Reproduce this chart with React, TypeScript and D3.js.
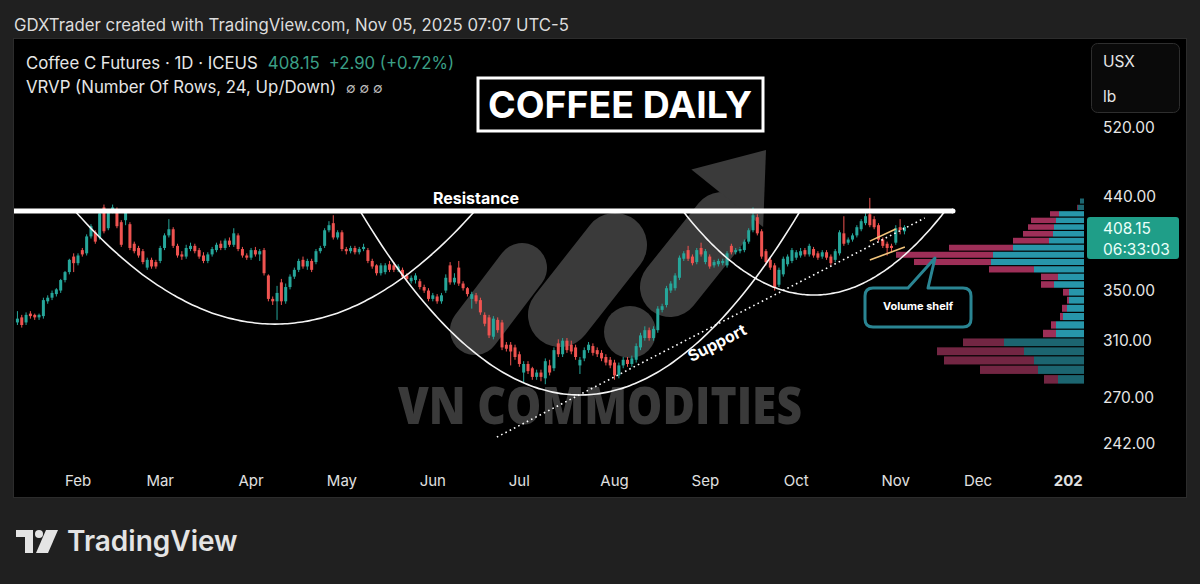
import React from "react";
import * as d3 from "d3";

// ---------- DATA ----------
// daily candles [open, high, low, close], Jan 13 2025 → Nov 5 2025
const dailyOHLC: [number, number, number, number][] = [
  [324,333,322,327],[328,330,320,322],[324,332,322,330],[331,333,327,329],[330,331,326,328],
  [328,331,326,330],[329,344,327,342],[341,346,339,344],[344,350,342,348],[347,352,345,351],
  [350,360,348,359],[359,367,357,366],[366,378,364,377],[380,383,366,374],
  // Feb
  [374,383,372,381],[386,388,380,382],[383,401,381,399],[399,411,397,409],[403,405,392,394],
  [398,425,396,422],[428,431,402,404],[407,426,405,424],[424,431,422,428],[423,428,407,409],
  [413,415,389,391],[415,426,410,423],[411,413,386,388],[392,394,383,385],[388,390,379,381],
  [385,387,373,375],[370,379,368,377],[377,379,369,371],[375,377,369,371],
  // Mar
  [376,390,374,388],[388,402,386,400],[400,416,398,406],[406,408,388,390],[390,392,379,381],
  [382,385,377,380],[380,391,378,388],[387,393,385,390],[390,392,383,385],[386,388,378,380],
  [381,384,374,376],[376,384,374,382],[382,389,380,387],[386,393,384,391],[392,395,386,388],
  [388,397,386,395],[395,398,389,391],[391,407,389,402],[400,402,385,387],[387,389,379,381],
  [381,383,377,379],
  // Apr
  [379,388,377,386],[386,389,380,382],[382,387,376,385],[386,388,363,365],[363,364,341,343],
  [343,345,338,341],[341,354,326,348],[357,360,338,341],[341,356,339,353],[353,364,351,362],
  [362,370,360,368],[368,378,366,376],[377,380,369,371],[371,378,368,376],[376,378,366,368],
  [375,387,373,385],[385,390,383,388],[390,407,388,405],[405,414,403,410],[412,420,396,398],
  [398,405,396,403],
  // May
  [403,405,385,387],[387,389,382,385],[385,390,383,388],[388,390,382,384],[384,389,382,387],
  [387,392,385,389],[386,388,374,376],[376,378,369,371],[372,373,363,365],[365,374,363,372],
  [366,374,364,372],[373,376,366,368],[372,375,366,368],[368,373,366,371],[368,370,360,362],
  [363,365,358,360],[358,363,356,361],[359,365,356,363],[358,360,351,353],[353,355,348,350],
  [350,352,341,343],
  // Jun
  [343,348,341,346],[345,347,339,341],[341,348,339,346],[350,364,348,361],[372,375,355,357],
  [357,365,355,361],[370,376,354,356],[356,358,350,352],[352,353,345,347],[343,349,335,347],
  [346,348,339,341],[342,344,330,332],[330,332,321,323],[328,330,312,314],[313,329,311,327],
  [326,328,316,318],[324,326,303,305],[307,309,302,304],[307,309,292,302],[305,307,296,298],
  // Jul
  [300,302,291,293],[287,295,280,293],[293,295,286,288],[290,291,282,284],[284,289,282,287],
  [287,289,281,284],[283,297,279,295],[292,296,285,287],[290,305,288,303],[308,311,298,300],
  [300,312,298,310],[310,312,301,303],[307,310,300,302],[305,307,296,298],[292,298,286,296],
  [297,305,295,303],[303,309,301,307],[306,308,299,301],[303,305,298,300],[301,303,295,297],
  [298,300,292,294],[296,298,290,292],
  // Aug
  [294,296,282,285],[285,294,283,292],[292,298,290,296],[296,298,291,293],[293,299,291,297],
  [296,308,294,306],[305,316,303,314],[312,321,310,318],[318,320,310,312],[312,321,310,319],
  [318,337,316,335],[334,339,332,337],[338,354,336,352],[350,358,348,356],[352,365,350,363],
  [361,381,359,379],[378,385,376,383],[386,390,376,378],[380,382,372,374],[375,388,373,386],
  [388,393,380,382],
  // Sep
  [375,387,373,385],[380,382,369,371],[372,377,370,375],[373,378,371,376],[374,378,372,376],
  [372,385,370,383],[390,392,382,384],[384,388,382,386],[385,389,383,387],[386,396,384,394],
  [394,407,392,405],[405,428,403,420],[418,421,400,402],[404,406,378,380],[385,387,372,375],
  [377,379,368,370],[372,374,350,353],[355,370,353,368],[364,380,362,378],[373,382,371,380],
  [376,388,374,386],
  // Oct
  [379,386,377,384],[381,388,379,385],[386,388,380,382],[382,392,380,390],[387,389,379,381],
  [383,385,377,379],[380,386,378,384],[384,386,377,379],[380,382,372,374],[377,387,375,385],
  [383,405,381,403],[402,419,390,392],[393,398,391,396],[396,402,394,400],[400,410,398,408],
  [406,416,404,414],[412,422,410,419],[421,438,408,410],[416,419,406,408],[410,412,394,396],
  [396,398,388,390],[392,394,381,388],[390,392,384,388],
  // Nov
  [393,410,391,407],[408,416,401,405.25],[404,410,401,408.15],
];

const monthLabels = ["Feb","Mar","Apr","May","Jun","Jul","Aug","Sep","Oct","Nov","Dec","2026"];
const monthBarIndex = [14,33,54,75,96,116,138,159,180,203,222,244];
const priceTicks = [520, 440, 350, 310, 270, 242];

const lastPrice = 408.15;
const priceChange = 2.9;
const priceChangePct = 0.72;
const barCountdown = "06:33:03";

const resistanceLevel = 424.3;
// cup arcs: [startBar, endBar, bottomPrice]
const cupArcs: [number, number, number][] = [
  [13.3, 105.7, 322.7],
  [79.2, 180.9, 271.8],
  [153.8, 214.4, 346.2],
];
const supportLine: [number, number][] = [[110.8, 245.5], [209.7, 417.2]];
const flagUpper: [number, number][] = [[197, 394.5], [203, 406.2]];
const flagLower: [number, number][] = [[197, 376.9], [205.1, 388.9]];

// volume profile rows, bottom → top (24 rows)
const vpDownVolume = [14,58,90,87,41,13,5,3,5,2,6,13,17,45,77,97,64,36,30,26,25,9,1,0];
const vpUpVolume   = [26,46,50,60,80,28,28,21,17,15,15,30,26,50,93,91,71,35,31,30,28,25,6,4];
const vpValueAreaRows = [5, 21];

// ---------- CHART ----------
const FONT = "Inter, 'Noto Sans', sans-serif";
const UP = "#26a69a";
const DOWN = "#ef5350";

export default function App() {
  const W = 1200, H = 584;
  const x = d3.scaleLinear().domain([14, 222]).range([78, 978]);
  const y = d3.scaleLog().domain([242, 520]).range([443, 127]);
  const plotLeft = 14, plotRight = 1085, plotTop = 38, plotBottom = 462;

  const candleW = 3;
  const yR = y(resistanceLevel);

  const arcPaths = cupArcs.map(([s, e, b]) => {
    const x0 = x(s), x1 = x(e), xc = (x0 + x1) / 2, hw = (x1 - x0) / 2;
    const yb = y(b);
    const pts: [number, number][] = d3.range(0, 81).map((k) => {
      const xi = x0 + ((x1 - x0) * k) / 80;
      const t = (xi - xc) / hw;
      return [xi, yR + (yb - yR) * (1 - t * t)];
    });
    return d3.line().curve(d3.curveBasis)(pts) as string;
  });

  // volume profile
  const lo = d3.min(dailyOHLC, (d) => d[2]) as number;
  const hi = d3.max(dailyOHLC, (d) => d[1]) as number;
  const nRows = vpUpVolume.length;
  const step = (hi - lo) / nRows;
  const maxTot = d3.max(vpUpVolume.map((u, i) => u + vpDownVolume[i])) as number;
  const vx = d3.scaleLinear().domain([0, maxTot]).range([0, 188]);
  const vpRight = 1084;

  const pt = (p: [number, number]) => [x(p[0]), y(p[1])];
  const s0 = pt(supportLine[0]), s1 = pt(supportLine[1]);
  const fu0 = pt(flagUpper[0]), fu1 = pt(flagUpper[1]);
  const fl0 = pt(flagLower[0]), fl1 = pt(flagLower[1]);

  const grey = "#3a3a3a";
  // arrowhead
  const tip = [766, 150];
  const dir = [0.625, -0.78];
  const bc = [tip[0] - 62 * dir[0], tip[1] - 62 * dir[1]];
  const perp = [0.78, 0.625];
  const head = `M${tip[0]},${tip[1]} L${bc[0] - 46 * perp[0]},${bc[1] - 46 * perp[1]} L${bc[0] + 46 * perp[0]},${bc[1] + 46 * perp[1]} Z`;

  return (
    <svg width={W} height={H} style={{ display: "block", position: "absolute", left: 0, top: 0 }}>
      <defs>
        <clipPath id="plotClip">
          <rect x={plotLeft} y={plotTop} width={plotRight - plotLeft} height={plotBottom - plotTop} />
        </clipPath>
        <clipPath id="timeClip">
          <rect x={plotLeft} y={460} width={1083 - plotLeft} height={40} />
        </clipPath>
      </defs>
      <rect x={0} y={0} width={W} height={H} fill="#202020" />
      <text x={14} y={31} fill="#dcdcdc" fontFamily={FONT} fontSize={16.8}>
        GDXTrader created with TradingView.com, Nov 05, 2025 07:07 UTC-5
      </text>
      <rect x={13.5} y={38.5} width={1173} height={459} fill="#000" stroke="#2c2c2c" />

      {/* watermark */}
      <g fill={grey} stroke={grey} strokeLinecap="round">
        <line x1={475} y1={330} x2={522} y2={268} strokeWidth={50} />
        <line x1={560} y1={315} x2={615} y2={245} strokeWidth={64} />
        <circle cx={630} cy={332} r={26} stroke="none" />
        <line x1={670} y1={287} x2={722} y2={222} strokeWidth={60} />
        <path d={head} stroke="none" />
      </g>
      <text x={600} y={424} textAnchor="middle" fill={grey} fontFamily="'Open Sans', sans-serif"
        fontWeight={800} fontSize={52} textLength={404} lengthAdjust="spacingAndGlyphs">
        VN COMMODITIES
      </text>

      {/* candles */}
      <g clipPath="url(#plotClip)">
        {dailyOHLC.map((d, i) => {
          const [o, h, l, c] = d;
          const col = c >= o ? UP : DOWN;
          const cx = x(i);
          const top = y(Math.max(o, c));
          const bot = y(Math.min(o, c));
          return (
            <g key={i}>
              <line x1={cx} x2={cx} y1={y(h)} y2={y(l)} stroke={col} strokeWidth={1} />
              <rect x={cx - candleW / 2} y={top} width={candleW} height={Math.max(1, bot - top)} fill={col} />
            </g>
          );
        })}
      </g>

      {/* volume profile */}
      <g>
        {vpUpVolume.map((u, k) => {
          const dn = vpDownVolume[k];
          const pLo = lo + k * step, pHi = lo + (k + 1) * step;
          const yt = y(pHi) + 0.6, yb = y(pLo) - 0.6;
          const inVA = k >= vpValueAreaRows[0] && k <= vpValueAreaRows[1];
          const upC = inVA ? "#2796aa" : "#1c6570";
          const dnC = inVA ? "#9e2f58" : "#732643";
          return (
            <g key={k}>
              <rect x={vpRight - vx(u)} y={yt} width={vx(u)} height={yb - yt} fill={upC} />
              <rect x={vpRight - vx(u + dn)} y={yt} width={vx(dn)} height={yb - yt} fill={dnC} />
            </g>
          );
        })}
      </g>

      {/* annotations */}
      <g fill="none" stroke="#f4f4f4" strokeWidth={1.6}>
        {arcPaths.map((p, i) => <path key={i} d={p} />)}
      </g>
      <line x1={14} x2={953} y1={yR} y2={yR} stroke="#fff" strokeWidth={5} />
      <circle cx={953} cy={yR} r={2.5} fill="#fff" />
      <text x={476} y={204} textAnchor="middle" fill="#fff" fontFamily={FONT} fontWeight={700} fontSize={16}>
        Resistance
      </text>
      <line x1={s0[0]} y1={s0[1]} x2={s1[0]} y2={s1[1]} stroke="#fff" strokeWidth={1.6} strokeDasharray="1.6 3.2" />
      <text x={717} y={343} textAnchor="middle" dy="0.35em" transform="rotate(-27 717 343)"
        fill="#fff" fontFamily={FONT} fontWeight={700} fontSize={16}>
        Support
      </text>
      <line x1={fu0[0]} y1={fu0[1]} x2={fu1[0]} y2={fu1[1]} stroke="#f2c57c" strokeWidth={1.6} />
      <line x1={fl0[0]} y1={fl0[1]} x2={fl1[0]} y2={fl1[1]} stroke="#f2c57c" strokeWidth={1.6} />

      {/* volume shelf callout */}
      <path d="M873,288 L908,288 L935,258 L928,288 L963,288 Q971,288 971,296 L971,319 Q971,327 963,327 L873,327 Q865,327 865,319 L865,296 Q865,288 873,288 Z"
        fill="#000" stroke="#2a8593" strokeWidth={3} strokeLinejoin="round" />
      <text x={918} y={310} textAnchor="middle" fill="#fff" fontFamily={FONT} fontWeight={700} fontSize={11}>
        Volume shelf
      </text>

      {/* title box */}
      <rect x={478} y={78} width={285} height={53} fill="#000" stroke="#fff" strokeWidth={3} />
      <text x={620} y={118} textAnchor="middle" fill="#fff" fontFamily={FONT} fontWeight={700}
        fontSize={37} textLength={264} lengthAdjust="spacingAndGlyphs">
        COFFEE DAILY
      </text>

      {/* legend */}
      <text x={26} y={69} fill="#e6e6e6" fontFamily={FONT} fontSize={16.8}>
        Coffee C Futures · 1D · ICEUS
        <tspan fill="#3b9f86" dx={10}>{lastPrice.toFixed(2)}</tspan>
        <tspan fill="#3b9f86" dx={9}>{`+${priceChange.toFixed(2)} (+${priceChangePct.toFixed(2)}%)`}</tspan>
      </text>
      <text x={26} y={93} fill="#e6e6e6" fontFamily={FONT} fontSize={16.8}>
        VRVP (Number Of Rows, 24, Up/Down)
        <tspan fill="#bdbdbd" fontSize={14} dx={10}>∅  ∅  ∅</tspan>
      </text>

      {/* price axis */}
      <rect x={1091.5} y={43.5} width={88} height={69} rx={6} fill="#0a0a0a" stroke="#2e2e2e" />
      <text x={1103} y={67} fill="#e6e6e6" fontFamily={FONT} fontSize={15.5}>USX</text>
      <text x={1103} y={102} fill="#e6e6e6" fontFamily={FONT} fontSize={15.5}>lb</text>
      {priceTicks.map((p) => (
        <text key={p} x={1103} y={y(p)} dy="0.36em" fill="#e6e6e6" fontFamily={FONT} fontSize={15.5}>
          {p.toFixed(2)}
        </text>
      ))}
      <rect x={1087} y={y(lastPrice) - 10} width={92} height={42} rx={3} fill="#1f9e88" />
      <text x={1103} y={y(lastPrice) + 1} dy="0.36em" fill="#eafff9" fontFamily={FONT} fontSize={15.5}>
        {lastPrice.toFixed(2)}
      </text>
      <text x={1103} y={y(lastPrice) + 22} dy="0.36em" fill="#eafff9" fontFamily={FONT} fontSize={15.5}>
        {barCountdown}
      </text>

      {/* time axis */}
      <g clipPath="url(#timeClip)">
        {monthLabels.map((m, i) => (
          <text key={m} x={x(monthBarIndex[i])} y={486} textAnchor="middle" fill="#e0e0e0"
            fontFamily={FONT} fontSize={15} fontWeight={m === "2026" ? 700 : 400}>
            {m}
          </text>
        ))}
      </g>

      {/* TradingView logo */}
      <g fill="#e4e4e4">
        <path d="M16,530 H33 V553 H25 V537 H16 Z" />
        <circle cx={39} cy={534} r={4} />
        <path d="M46,530 H58 L48,553 H36 Z" />
      </g>
      <text x={67} y={551} fill="#e4e4e4" fontFamily={FONT} fontWeight={600} fontSize={28}>
        TradingView
      </text>
    </svg>
  );
}
